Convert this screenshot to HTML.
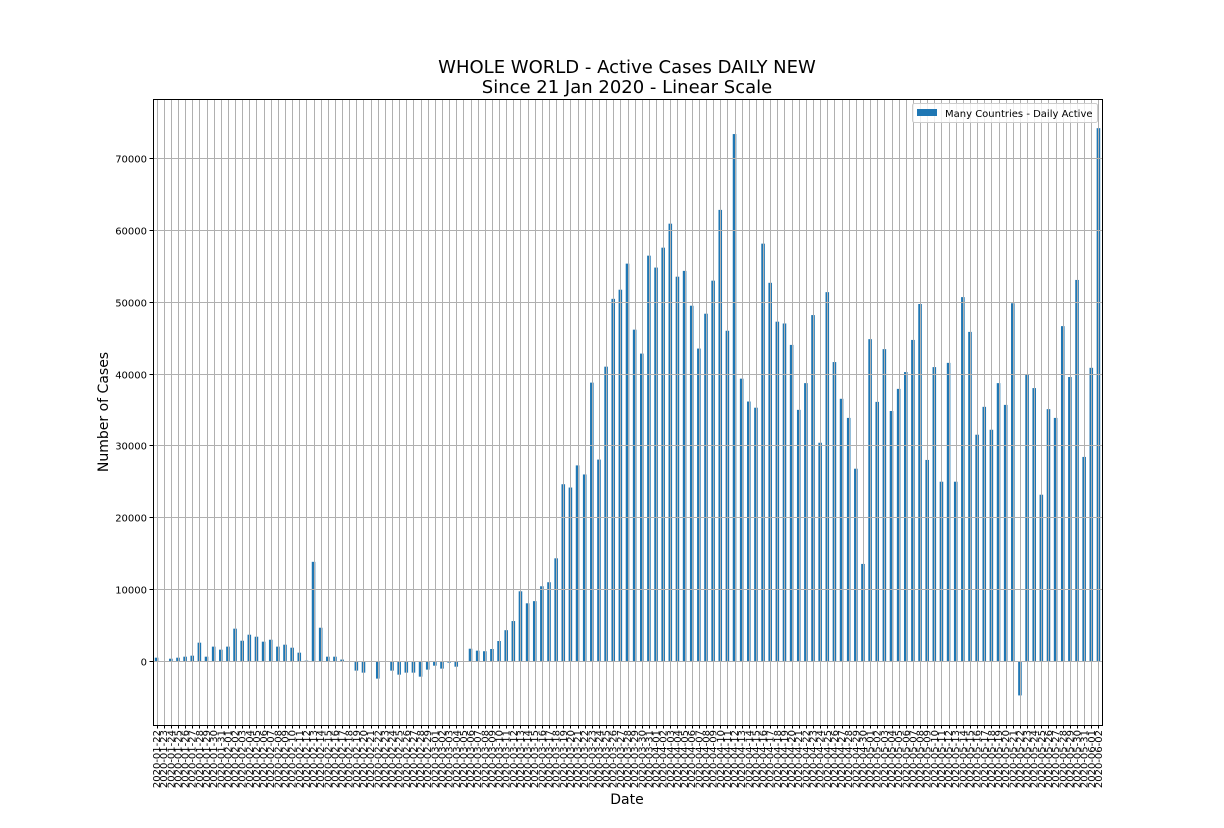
<!DOCTYPE html>
<html><head><meta charset="utf-8"><style>
html,body{margin:0;padding:0;background:#fff;}
svg{display:block;font-family:"DejaVu Sans","Liberation Sans",sans-serif;}
</style></head><body>
<svg id="chart" width="1224" height="828">
<g id="bars"></g>
<g id="grid"></g>
<g id="xticks"></g>
<g id="yticks"></g>
<rect x="153.5" y="99.5" width="949" height="626" fill="none" stroke="#000" stroke-width="1"/>
<text x="627" y="73" font-size="18" text-anchor="middle">WHOLE WORLD - Active Cases DAILY NEW</text>
<text x="627" y="93" font-size="18" text-anchor="middle">Since 21 Jan 2020 - Linear Scale</text>
<text x="627" y="804" font-size="14" text-anchor="middle">Date</text>
<text transform="translate(108,412) rotate(-90)" font-size="14" text-anchor="middle">Number of Cases</text>
<g>
<rect x="912.5" y="103.5" width="185" height="19" fill="#fff" fill-opacity="0.8" stroke="#ccc" rx="2"/>
<rect x="917" y="109" width="20" height="7" fill="#1f77b4"/>
<text x="945" y="117" font-size="10">Many Countries - Daily Active</text>
</g>
</svg>
<script>
const startDate = "2020-01-22";
const values = [460,0,320,460,600,740,2550,600,2000,1580,2000,4500,2820,3660,3380,2690,2960,2000,2270,1850,1160,50,13800,4630,600,600,200,-30,-1340,-1620,0,-2450,0,-1340,-1900,-1620,-1620,-2180,-1200,-650,-1060,-230,-790,0,1710,1440,
1360,1670,2780,4290,5560,9700,8030,8330,10400,10960,14290,24600,24140,27220,25960,38740,28030,40960,50400,51670,55300,46110,42780,56410,54750,57520,60860,53480,54290,49440,43480,48330,52930,62780,45960,73330,39290,36110,35250,58080,52630,47220,46970,
43990,34950,38670,48140,30370,51330,41600,36490,33830,26760,13510,44790,36060,43400,34790,37870,40210,44680,49680,27980,40900,24950,41490,24950,50640,45800,31490,35370,32180,38670,35640,49790,-4790,39840,37980,23140,35050,33830,46600,39520,53030,28400,40800,74150];
const yTickValues = [0,10000,20000,30000,40000,50000,60000,70000];

const NS = "http://www.w3.org/2000/svg";
const plotL = 153, plotR = 1102, plotT = 99, plotB = 725;
const yMin = -8906, yMax = 78210;
function yScale(v){ return plotB - (v - yMin) / (yMax - yMin) * (plotB - plotT); }
const step = (plotR - plotL) / values.length;
function xScale(i){ return plotL + step * (i + 0.5); }
function mk(tag, attrs, parent){ const e = document.createElementNS(NS, tag); for (const k in attrs) e.setAttribute(k, attrs[k]); parent.appendChild(e); return e; }
function dateLabel(i){ const d = new Date(startDate + "T00:00:00Z"); d.setUTCDate(d.getUTCDate() + i); return d.toISOString().slice(0,10); }

const grid = document.getElementById("grid"), bars = document.getElementById("bars"),
      xt = document.getElementById("xticks"), yt = document.getElementById("yticks");

yTickValues.forEach(v => {
  const y = Math.round(yScale(v)) + 0.5;
  const gl = mk("line", {x1: plotL, x2: plotR, y1: y, y2: y, stroke: "#b0b0b0", "stroke-width": 1}, grid);
  
  
  const tk = mk("line", {x1: plotL - 3.5, x2: plotL, y1: y, y2: y, stroke: "#000"}, yt);
  
  
  const t = mk("text", {x: plotL - 6, y: y + 4, "font-size": 10, "text-anchor": "end"}, yt);
  t.textContent = String(v);
  
  
});

values.forEach((v, i) => {
  const x = xScale(i);
  const gx = Math.round(x) + 0.5;
  const gl = mk("line", {x1: gx, x2: gx, y1: plotT, y2: plotB, stroke: "#b0b0b0", "stroke-width": 1}, grid);
  
  
  const y0 = yScale(0), y1 = yScale(v);
  const bw = step * 0.5;
  const r = mk("rect", {x: x - bw/2, y: Math.min(y0, y1), width: bw, height: Math.max(Math.abs(y1 - y0), 0.5), fill: "#1f77b4"}, bars);
  
  
  const tk = mk("line", {x1: gx, x2: gx, y1: plotB, y2: plotB + 3.5, stroke: "#000"}, xt);
  
  
  const t = mk("text", {transform: "translate(" + (x + 3.5) + "," + (plotB + 5) + ") rotate(-90)", "font-size": 10, "text-anchor": "end"}, xt);
  t.textContent = dateLabel(i);
  
  
});
</script>
</body></html>
